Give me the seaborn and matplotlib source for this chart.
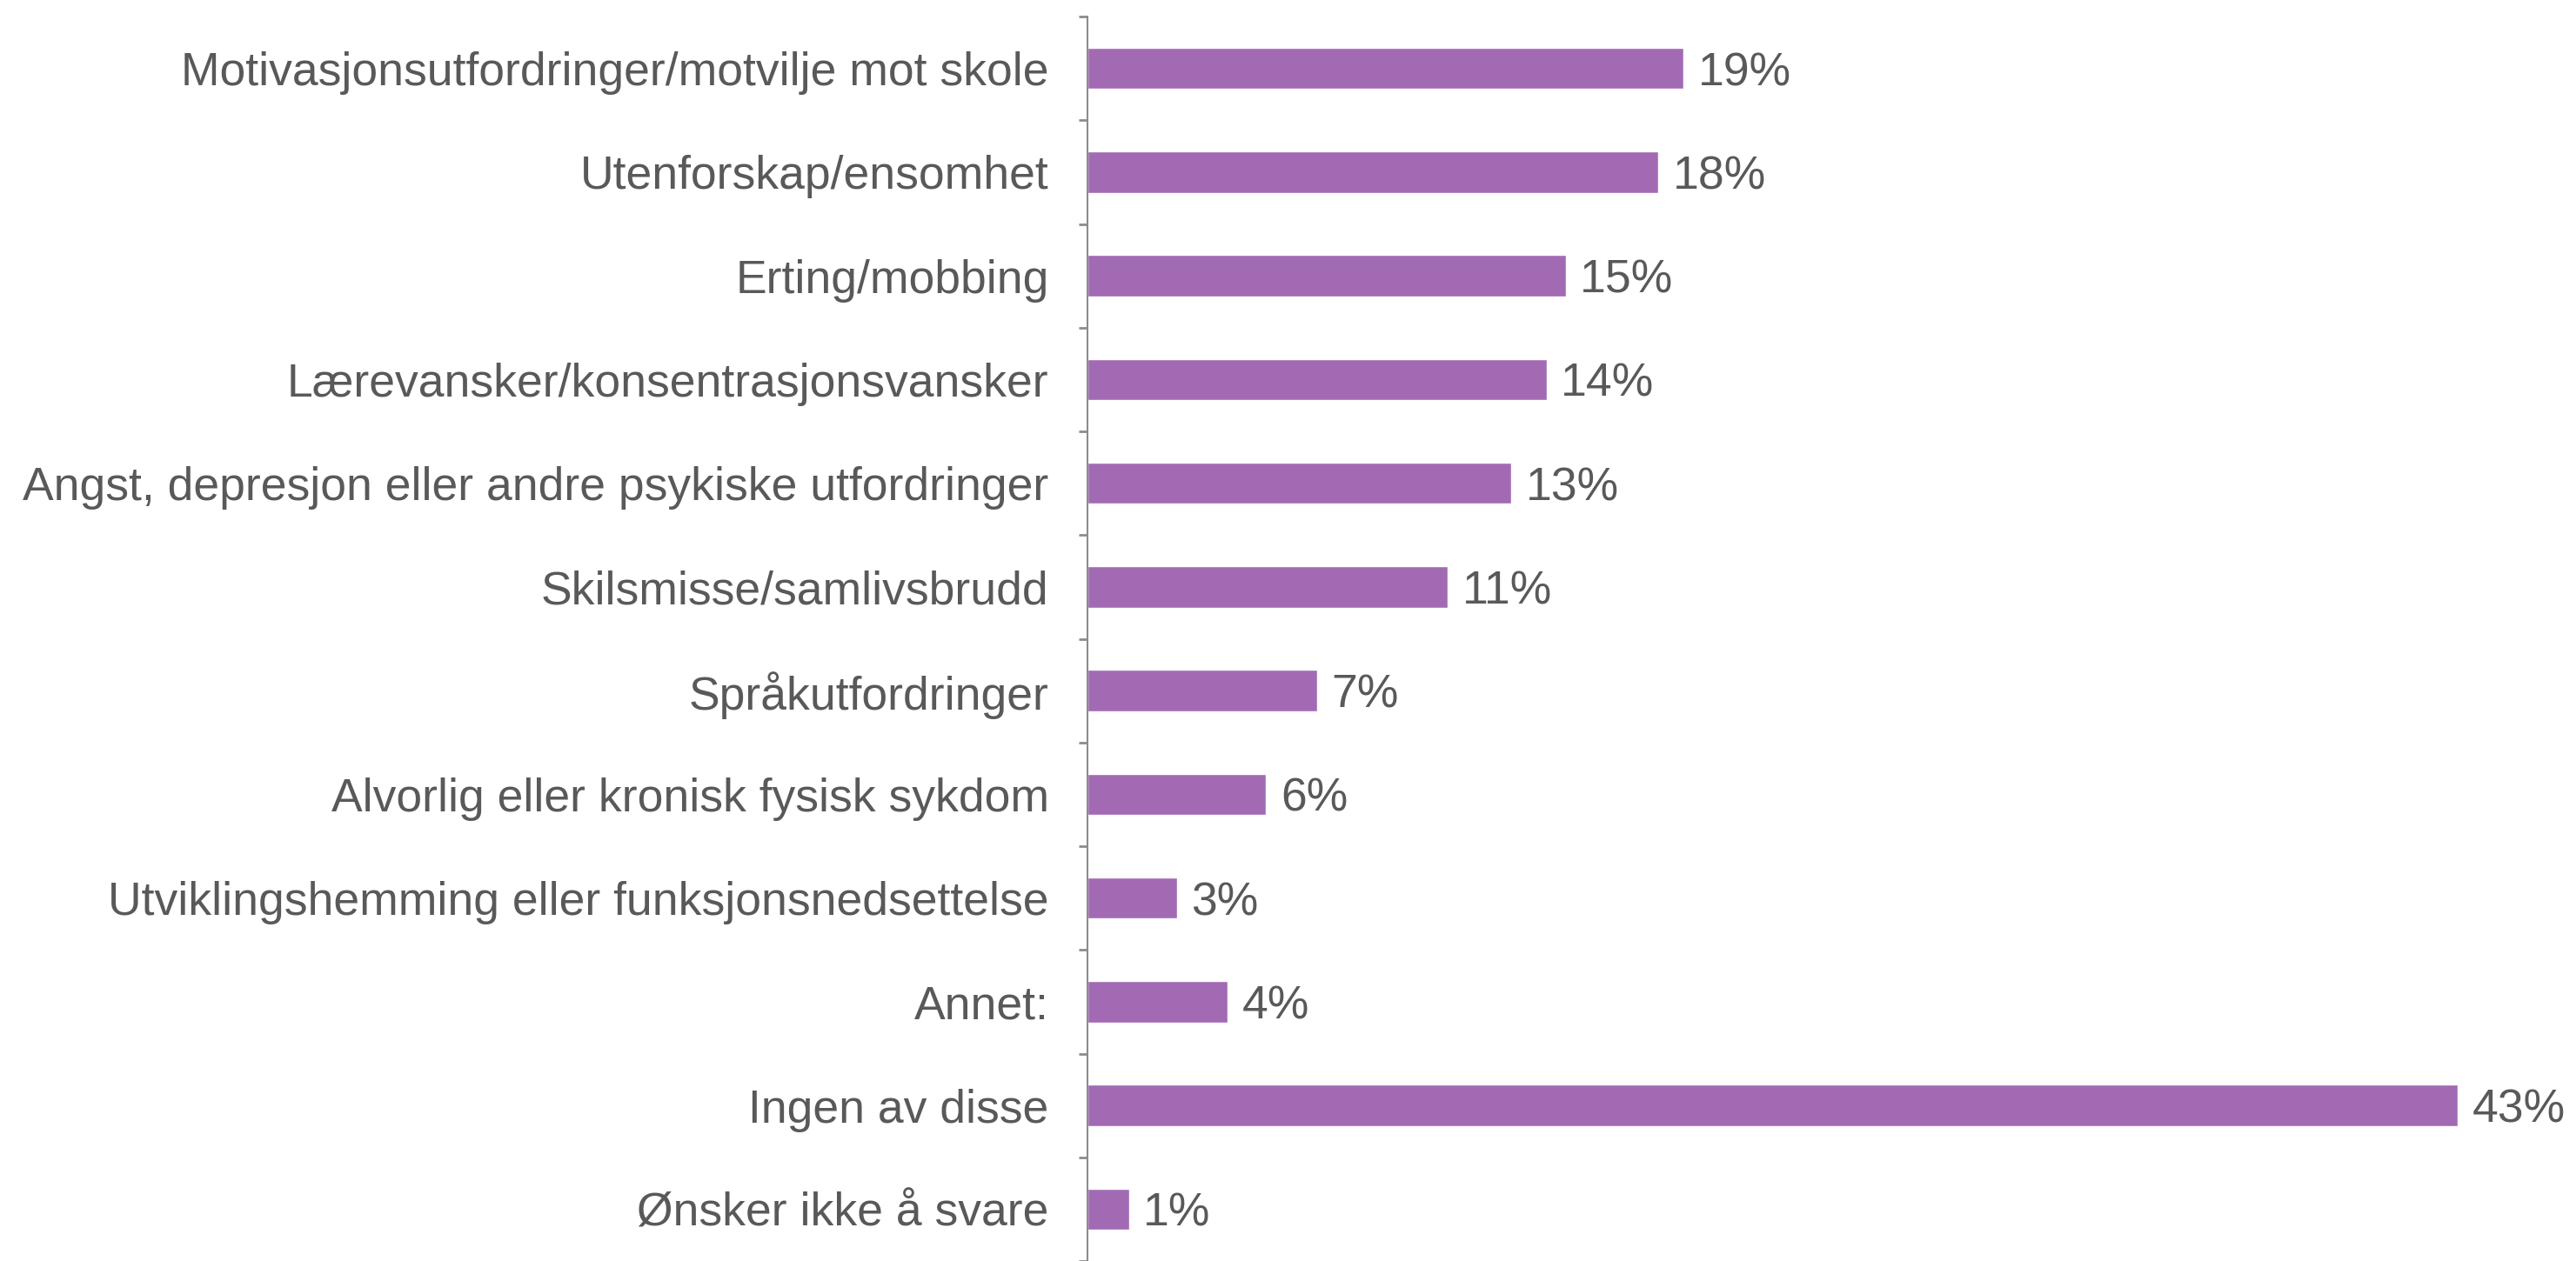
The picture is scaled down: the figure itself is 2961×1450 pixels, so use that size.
import numpy as np
import pandas as pd
import seaborn as sb
import matplotlib
matplotlib.use("Agg")
import matplotlib.pyplot as plt

# categories and shares (percent)
categories = [
    "Motivasjonsutfordringer/motvilje mot skole",
    "Utenforskap/ensomhet",
    "Erting/mobbing",
    "Lærevansker/konsentrasjonsvansker",
    "Angst, depresjon eller andre psykiske utfordringer",
    "Skilsmisse/samlivsbrudd",
    "Språkutfordringer",
    "Alvorlig eller kronisk fysisk sykdom",
    "Utviklingshemming eller funksjonsnedsettelse",
    "Annet:",
    "Ingen av disse",
    "Ønsker ikke å svare",
]
shares = [18.7, 17.9, 15.0, 14.4, 13.3, 11.3, 7.2, 5.6, 2.8, 4.4, 43.0, 1.3]
value_labels = ["19%", "18%", "15%", "14%", "13%", "11%", "7%", "6%", "3%", "4%", "43%", "1%"]

df = pd.DataFrame({"kategori": categories, "andel": shares})

bar_color = "#A36AB4"
text_color = "#595959"
axis_color = "#8C8C8C"

sb.set_style("white")
plt.rcParams['font.family'] = ['Liberation Sans', 'DejaVu Sans']

fig = plt.figure(figsize=(29.61, 14.5), dpi=100)
ax = fig.add_axes([1250/2961, 0.0, 1 - 1250/2961, 1 - 19/1450])

sb.barplot(data=df, y="kategori", x="andel", orient="h", color=bar_color,
           width=0.4, saturation=1, ax=ax)

# value labels just right of each bar
for patch, lbl in zip(ax.patches, value_labels):
    ax.annotate(lbl, (patch.get_width(), patch.get_y() + patch.get_height() / 2),
                xytext=(12, 0), textcoords="offset points",
                ha="left", va="center_baseline", fontsize=38.5, color=text_color)

ax.set_xlim(0, 46.7)
ax.set_ylim(len(categories) - 0.5, -0.5)
ax.set_xlabel("")
ax.set_ylabel("")
ax.set_xticks([])

# labels on the category centres, tick marks on the boundaries
ax.set_yticks(np.arange(len(categories)))
ax.set_yticklabels(categories, fontsize=38.5, color=text_color)
ax.tick_params(axis="y", which="major", length=0, pad=32)
ax.set_yticks(np.arange(len(categories) + 1) - 0.5, minor=True)
ax.tick_params(axis="y", which="minor", length=7, width=2, color=axis_color, left=True)

for side in ["top", "right", "bottom"]:
    ax.spines[side].set_visible(False)
ax.spines["left"].set_color(axis_color)
ax.spines["left"].set_linewidth(1.5)

fig.savefig("out.png", dpi=100)
